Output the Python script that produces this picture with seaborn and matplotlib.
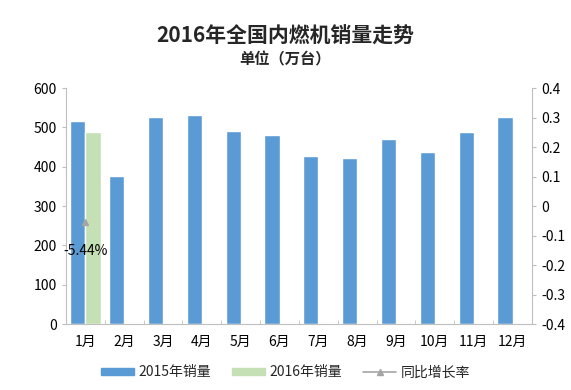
import numpy as np
import pandas as pd
import seaborn as sns
import matplotlib.pyplot as plt
from matplotlib.lines import Line2D
from matplotlib.patches import Patch

months = ["1月", "2月", "3月", "4月", "5月", "6月", "7月", "8月", "9月", "10月", "11月", "12月"]
sales_2015 = [516, 376, 526, 531, 491, 480, 427, 422, 470, 437, 488, 526]
sales_2016 = [488, np.nan, np.nan, np.nan, np.nan, np.nan, np.nan, np.nan, np.nan, np.nan, np.nan, np.nan]
growth = [-0.0544] + [np.nan] * 11
series_names = ["2015年销量", "2016年销量", "同比增长率"]

sns.set_style("white")
plt.rcParams['font.family'] = ['Noto Sans CJK SC', 'DejaVu Sans']
plt.rcParams['axes.unicode_minus'] = False

df = pd.DataFrame({
    "month": months * 2,
    "sales": sales_2015 + sales_2016,
    "year": [series_names[0]] * 12 + [series_names[1]] * 12,
})

blue = "#5B9BD5"
green = "#C5E0B4"
grey = "#A5A5A5"

fig = plt.figure(figsize=(5.71, 3.90), dpi=100)
ax = fig.add_axes([0.1156, 0.169, 0.816, 0.605])

sns.barplot(data=df, x="month", y="sales", hue="year", palette=[blue, green],
            width=0.78, ax=ax, legend=False, saturation=1)
ax.set_ylim(0, 600)
ax.set_yticks(range(0, 601, 100))
ax.set_xlim(-0.5, 11.5)
ax.set_xlabel("")
ax.set_ylabel("")

ax2 = ax.twinx()
ax2.plot(range(12), growth, marker="^", color=grey, markersize=5, lw=1.2)
ax2.set_ylim(-0.4, 0.4)
ax2.set_yticks(np.arange(-0.4, 0.41, 0.1))
ax2.set_yticklabels(["-0.4", "-0.3", "-0.2", "-0.1", "0", "0.1", "0.2", "0.3", "0.4"])
ax2.annotate(f"{growth[0]*100:.2f}%", (0, growth[0]), xytext=(0, -21),
             textcoords="offset points", ha="center", va="center", fontsize=10, color="#000000")

for a in (ax, ax2):
    a.spines["top"].set_visible(False)
    a.tick_params(labelsize=10, colors="#000000", length=3)
for s in ("left", "bottom", "right"):
    ax.spines[s].set_color("#BFBFBF")
    ax2.spines[s].set_color("#BFBFBF")
ax.spines["right"].set_visible(False)
ax2.spines["left"].set_visible(False)
ax2.spines["bottom"].set_visible(False)
ax.tick_params(axis="y", left=True, color="#BFBFBF")
ax2.tick_params(axis="y", right=True, color="#BFBFBF")
ax.tick_params(axis="x", bottom=False, pad=5)
ax.set_xticks(np.arange(-0.5, 12, 1), minor=True)
ax.tick_params(axis="x", which="minor", direction="in", length=3, color="#BFBFBF", bottom=True)

fig.text(0.5, 0.906, "2016年全国内燃机销量走势", ha="center", va="center",
         fontsize=15, fontweight="bold")
fig.text(0.5, 0.847, "单位（万台）", ha="center", va="center", fontsize=11, fontweight="bold")

handles = [Patch(color=blue), Patch(color=green),
           Line2D([0], [0], color=grey, marker="^", markersize=5, lw=1.2)]
fig.legend(handles, series_names, loc="center", bbox_to_anchor=(0.5, 0.045), ncol=3,
           frameon=False, fontsize=10, handlelength=2.4, handleheight=0.5,
           columnspacing=1.5, handletextpad=0.3)

fig.savefig("out.png", dpi=100)
